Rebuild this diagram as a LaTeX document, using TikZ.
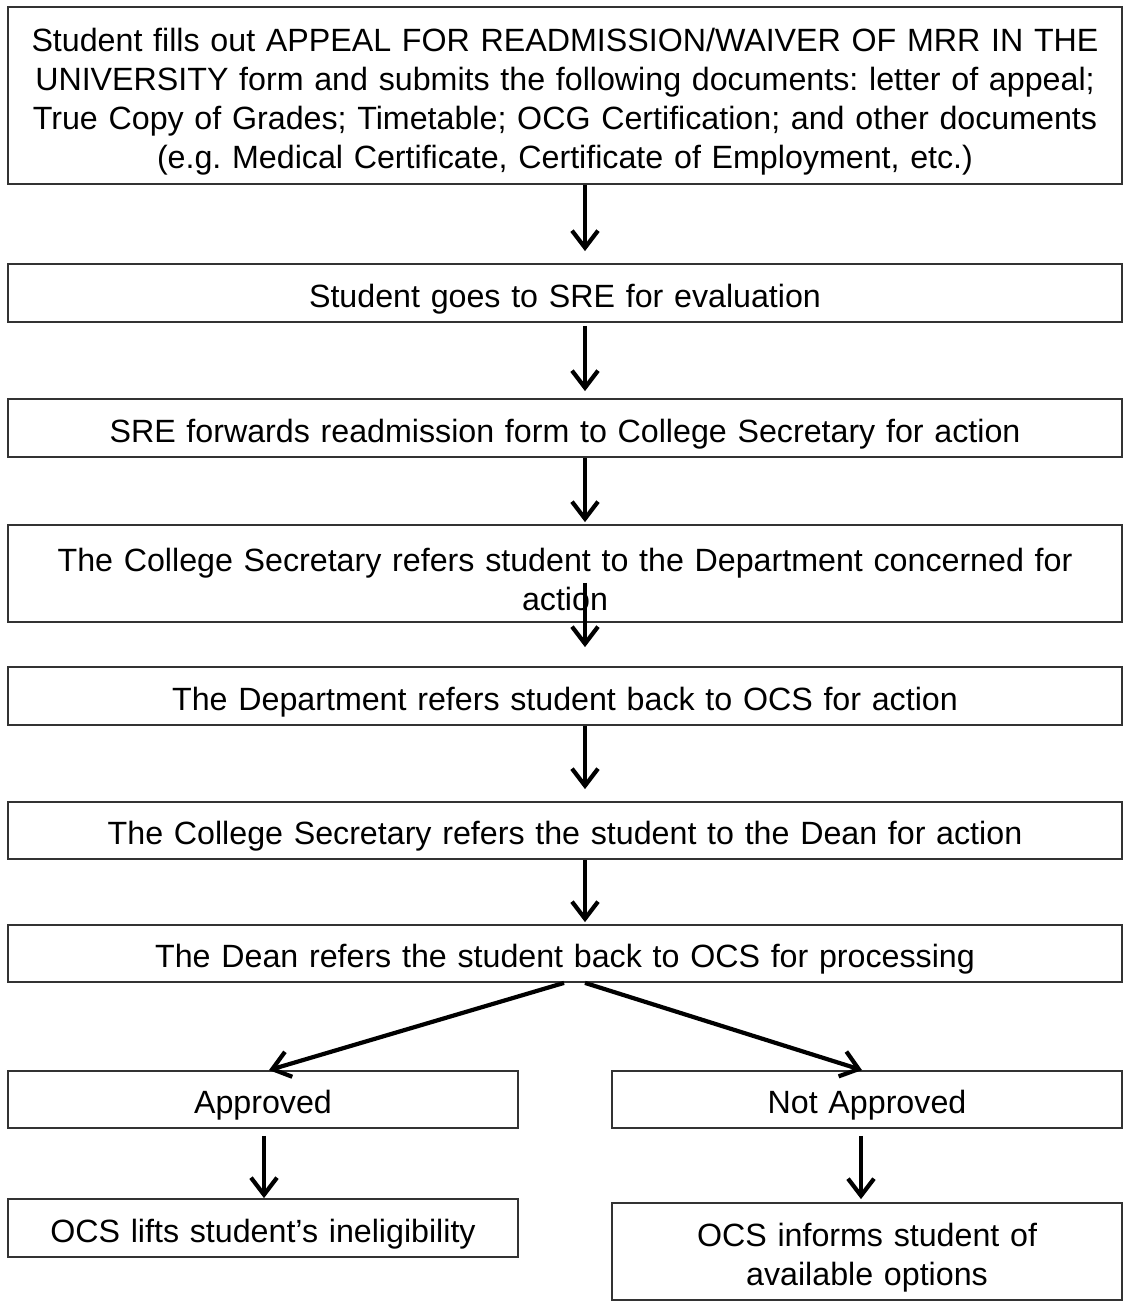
\documentclass[tikz,border=0pt]{standalone}
\usepackage{fontspec}
\setmainfont{Liberation Sans}
\usetikzlibrary{arrows.meta}
\frenchspacing
% invisible strut that gives the first line of each box some head room
\newcommand{\topgap}{\rule{0pt}{35pt}}
\begin{document}
\begin{tikzpicture}[x=1pt,y=-1pt,
  stepbox/.style={draw=black!80, line width=1.8pt, inner sep=0pt, align=center,
    text width=1100pt, font=\fontsize{32.2}{39}\selectfont},
  halfbox/.style={stepbox, text width=500pt},
  flow/.style={line width=4.2pt, -{Straight Barb[length=17pt,width=26pt,line width=4.2pt]}}
]
\useasboundingbox (0,0) rectangle (1126,1301);

% main column of steps
\node[stepbox, minimum width=1114pt, minimum height=177pt] (b1) at (565,95.5)
  {\topgap Student fills out APPEAL FOR READMISSION/WAIVER OF MRR IN THE\\
   UNIVERSITY form and submits the following documents: letter of appeal;\\
   True Copy of Grades; Timetable; OCG Certification; and other documents\\
   (e.g. Medical Certificate, Certificate of Employment, etc.)};
\node[stepbox, minimum width=1114pt, minimum height=58pt] (b2) at (565,293)
  {\topgap Student goes to SRE for evaluation};
\node[stepbox, minimum width=1114pt, minimum height=58pt] (b3) at (565,428)
  {\topgap SRE forwards readmission form to College Secretary for action};
\node[stepbox, minimum width=1114pt, minimum height=97pt] (b4) at (565,573.5)
  {\topgap The College Secretary refers student to the Department concerned for\\ action};
\node[stepbox, minimum width=1114pt, minimum height=58pt] (b5) at (565,696)
  {\topgap The Department refers student back to OCS for action};
\node[stepbox, minimum width=1114pt, minimum height=57pt] (b6) at (565,830.5)
  {\topgap The College Secretary refers the student to the Dean for action};
\node[stepbox, minimum width=1114pt, minimum height=57pt] (b7) at (565,953.5)
  {\topgap The Dean refers the student back to OCS for processing};

% outcome branches
\node[halfbox, minimum width=510pt, minimum height=57pt] (ap) at (263,1099.5) {\topgap Approved};
\node[halfbox, minimum width=510pt, minimum height=57pt] (na) at (867,1099.5) {\topgap Not Approved};
\node[halfbox, minimum width=510pt, minimum height=58pt] (ol) at (263,1228)
  {\topgap OCS lifts student’s ineligibility};
\node[halfbox, minimum width=510pt, minimum height=97pt] (oi) at (867,1251.5)
  {\topgap OCS informs student of\\ available options};

% connectors
\draw[flow] ([xshift=20pt]b1.south) -- ([xshift=20pt,yshift=12pt]b2.north);
\draw[flow] ([xshift=20pt,yshift=-3pt]b2.south) -- ([xshift=20pt,yshift=7pt]b3.north);
\draw[flow] ([xshift=20pt]b3.south) -- ([xshift=20pt,yshift=2pt]b4.north);
\draw[flow] ([xshift=20pt,yshift=40pt]b4.south) -- ([xshift=20pt,yshift=19pt]b5.north);
\draw[flow] ([xshift=20pt]b5.south) -- ([xshift=20pt,yshift=12pt]b6.north);
\draw[flow] ([xshift=20pt]b6.south) -- ([xshift=20pt,yshift=2pt]b7.north);
\draw[flow] ([xshift=-1pt]b7.south) -- ([xshift=6pt]ap.north);
\draw[flow] ([xshift=20pt]b7.south) -- ([xshift=-5pt]na.north);
\draw[flow] ([xshift=1pt,yshift=-7pt]ap.south) -- ([xshift=1pt]ol.north);
\draw[flow] ([xshift=-6pt,yshift=-7pt]na.south) -- ([xshift=-6pt,yshift=3pt]oi.north);
\end{tikzpicture}
\end{document}
